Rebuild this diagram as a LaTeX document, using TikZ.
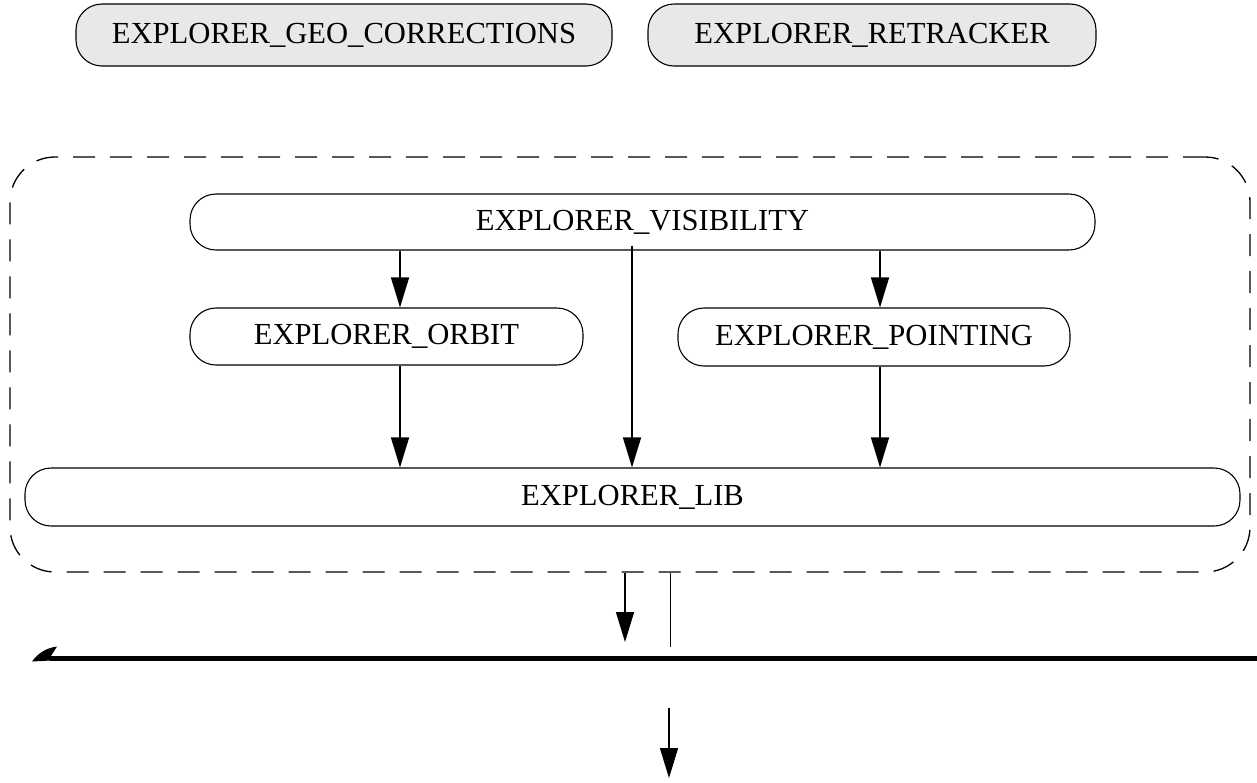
\documentclass[tikz,border=0pt]{standalone}
\usepackage{fontspec}
\setmainfont{Liberation Serif}
\usetikzlibrary{arrows.meta}
\begin{document}
\begin{tikzpicture}[x=1pt,y=-1pt,
  box/.style={draw,line width=1.1pt,rounded corners=26pt,inner sep=0pt,font=\fontsize{30.6}{36}\selectfont},
  topbox/.style={box,fill=black!9},
  arr/.style={line width=1.5pt,-{Triangle[length=30pt,width=18pt]}},
  grp/.style={draw,line width=1.3pt,dash pattern=on 22pt off 15pt,rounded corners=45pt,inner sep=0pt}]
\useasboundingbox (0,0) rectangle (1257,782);
\node[topbox,minimum width=536pt,minimum height=62pt] (geo) at (344,35) {EXPLORER\_GEO\_CORRECTIONS};
\node[topbox,minimum width=448pt,minimum height=62pt] (ret) at (872,35) {EXPLORER\_RETRACKER};
\node[grp,minimum width=1240pt,minimum height=415pt] (group) at (630,364.5) {};
\node[box,minimum width=905pt,minimum height=56pt] (vis) at (642.5,222) {EXPLORER\_VISIBILITY};
\node[box,minimum width=393pt,minimum height=57pt] (orb) at (386.5,336.5) {EXPLORER\_ORBIT};
\node[box,minimum width=392pt,minimum height=58pt] (poi) at (874,337) {EXPLORER\_POINTING};
\node[box,minimum width=1215pt,minimum height=58pt] (lib) at (632.5,497) {EXPLORER\_LIB};
\draw[arr] (vis.south -| 400,0) -- (orb.north -| 400,0);
\draw[arr] (vis.south -| 880,0) -- (poi.north -| 880,0);
\draw[arr] ([yshift=5pt]vis.south -| 632,0) -- (lib.north -| 632,0);
\draw[arr] (orb.south -| 400,0) -- (lib.north -| 400,0);
\draw[arr] (poi.south -| 880,0) -- (lib.north -| 880,0);
\coordinate (busL) at (50,658);
\coordinate (busR) at (1257,658);
\coordinate (tipA) at (625,642);
\coordinate (endB) at (670,647);
\coordinate (srcC) at (669,708);
\coordinate (tipC) at (669,778);
\draw[line width=5pt] (busL) -- (busR);
\fill (32,661.5) .. controls (39,652) and (47,648) .. (57,646.5) -- (51,656) -- (51,660.5) -- cycle;
\draw[arr] (group.south -| tipA) -- (tipA);
\draw[line width=1pt] (group.south -| endB) -- (endB);
\draw[arr] (srcC) -- (tipC);
\end{tikzpicture}
\end{document}
